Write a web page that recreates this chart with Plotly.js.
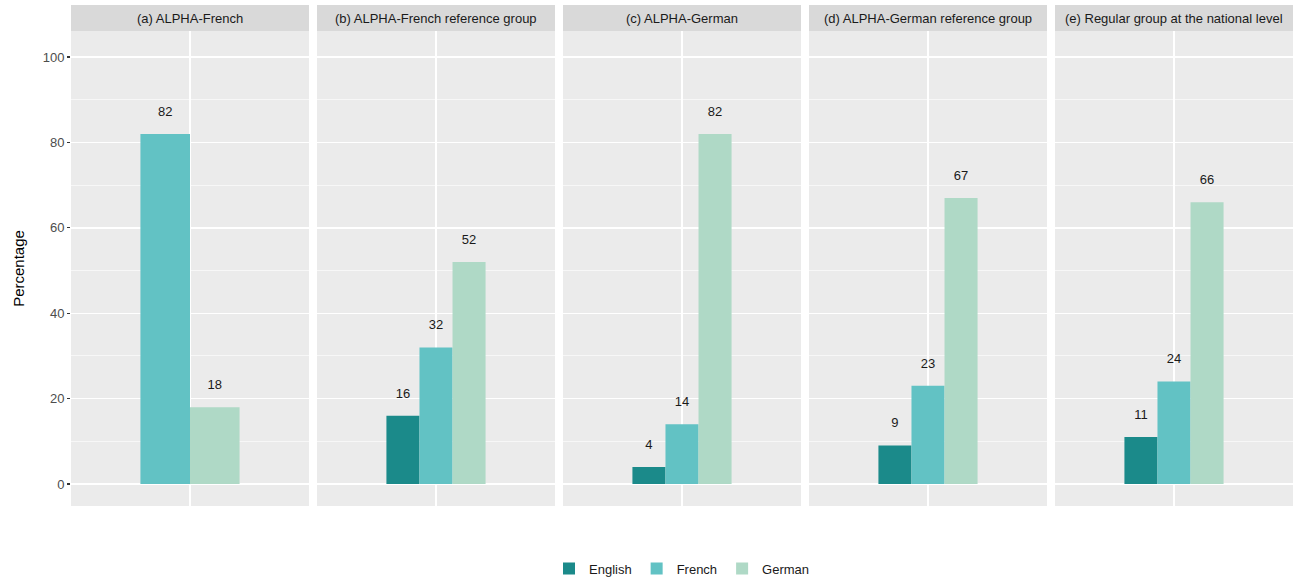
<!DOCTYPE html>
<html><head><meta charset="utf-8">
<script src="https://cdn.plot.ly/plotly-3.0.1.min.js"></script>
<style>body{margin:0;background:#fff}#chart{width:1295px;height:579px}</style>
</head><body><div id="chart"></div>
<script>
const panels = ["(a) ALPHA-French","(b) ALPHA-French reference group","(c) ALPHA-German","(d) ALPHA-German reference group","(e) Regular group at the national level"];
const languages = ["English","French","German"];
const colors = ["#1B8A8A","#62C2C4","#AFD9C6"];
// values per panel (null = no bar)
const english = [null, 16, 4, 9, 11];
const french  = [82, 32, 14, 23, 24];
const german  = [18, 52, 82, 67, 66];
const series = [english, french, german];

const W = 1295, H = 579;
const mL = 71, mR = 2, mT = 31, mB = 73;
const gap = 8;
const plotW = W - mL - mR;
const panelW = (plotW - gap*4)/5;
const plotH = H - mT - mB;
const groupWidth = 0.5;

const traces = [];
const layout = {
  width: W, height: H,
  margin: {l: mL, r: mR, t: mT, b: mB, autoexpand: false},
  paper_bgcolor: "#FFFFFF",
  plot_bgcolor: "#EBEBEB",
  font: {family: "Liberation Sans, Arial, sans-serif", color: "#1A1A1A", size: 13},
  barmode: "group", bargap: 1 - groupWidth, bargroupgap: 0,
  showlegend: true,
  legend: {orientation: "h", x: 0.5, xanchor: "center", y: -0.1, yanchor: "top", yref: "paper",
           font: {size: 13, color: "#1A1A1A"}, traceorder: "normal", itemwidth: 30},
  shapes: [], annotations: []
};

for (let p = 0; p < 5; p++) {
  const xn = p === 0 ? "" : String(p+1);
  const x0 = (p*(panelW+gap))/plotW, x1 = (p*(panelW+gap)+panelW)/plotW;
  layout["xaxis"+xn] = {domain: [x0, x1], range: [-0.6, 0.6], type: "linear", anchor: "y"+xn,
    tickvals: [0], showticklabels: false, ticks: "", showgrid: true, gridcolor: "#FFFFFF", gridwidth: 1.4,
    zeroline: false, showline: false, fixedrange: true, automargin: false};
  layout["yaxis"+xn] = {domain: [0, 1], range: [-5.15, 106.1], anchor: "x"+xn,
    tickvals: [0,20,40,60,80,100], showticklabels: p === 0, ticks: p === 0 ? "outside" : "",
    ticklen: 3, tickwidth: 1.1, tickcolor: "#333333", tickfont: {size: 13, color: "#4D4D4D"},
    showgrid: true, gridcolor: "#FFFFFF", gridwidth: 1.4, zeroline: false, showline: false,
    minor: {tickvals: [10,30,50,70,90], showgrid: true, gridcolor: "#FFFFFF", gridwidth: 0.6, ticks: ""},
    fixedrange: true, automargin: false};
  if (p === 0) layout.yaxis.title = {text: "Percentage", font: {size: 15, color: "#000000"}, standoff: 14};

  const present = [];
  for (let s = 0; s < 3; s++) if (series[s][p] !== null) present.push(s);
  const n = present.length;
  const bw = groupWidth / n;
  present.forEach((s, i) => {
    const v = series[s][p];
    traces.push({type: "bar", x: [0], y: [v], name: languages[s], legendgroup: languages[s],
      showlegend: p === 1, marker: {color: colors[s], line: {width: 0}},
      xaxis: "x"+xn, yaxis: "y"+xn, hoverinfo: "skip"});
    const xc = -groupWidth/2 + bw*(i+0.5);
    traces.push({type: "scatter", mode: "text", x: [xc], y: [v + 5], text: [String(v)],
      textposition: "middle center", textfont: {size: 13, color: "#1A1A1A"},
      xaxis: "x"+xn, yaxis: "y"+xn, showlegend: false, hoverinfo: "skip", cliponaxis: false});
  });

  layout.shapes.push({type: "rect", xref: "paper", yref: "paper", x0: x0, x1: x1,
    y0: 1, y1: 1 + 26/plotH, fillcolor: "#D9D9D9", line: {width: 0}, layer: "below"});
  layout.annotations.push({xref: "paper", yref: "paper", x: (x0+x1)/2, y: 1 + 13/plotH,
    text: panels[p], showarrow: false, xanchor: "center", yanchor: "middle",
    font: {size: 13, color: "#1A1A1A"}});
}

Plotly.newPlot("chart", traces, layout, {displayModeBar: false, staticPlot: true});
</script></body></html>
